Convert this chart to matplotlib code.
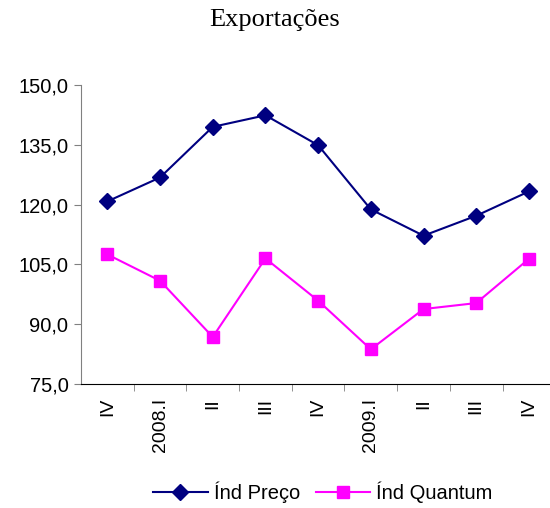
import matplotlib
matplotlib.use("Agg")
import matplotlib.pyplot as plt
import numpy as np

categories = ["IV", "2008.I", "II", "III", "IV", "2009.I", "II", "III", "IV"]
ind_preco = [120.8, 126.8, 139.5, 142.4, 134.9, 118.8, 112.2, 117.2, 123.3]
ind_quantum = [107.5, 100.9, 86.8, 106.5, 95.9, 83.7, 93.8, 95.3, 106.4]
yticks = [75, 90, 105, 120, 135, 150]

fig = plt.figure(figsize=(5.5, 5.08), dpi=100)
ax = fig.add_axes([81/550, 124/508, 1 - 81/550, (384-85)/508])

x = np.arange(len(categories))
ax.plot(x, ind_preco, color="#000080", marker="D", markersize=8, linewidth=1.5,
        label="Índ Preço", clip_on=False)
ax.plot(x, ind_quantum, color="#FF00FF", marker="s", markersize=8, linewidth=1.5,
        label="Índ Quantum", clip_on=False)

ax.set_ylim(75, 150)
ax.set_xlim(-0.5, 8.4)
ax.set_yticks(yticks)
ax.set_yticklabels([f"{v:.1f}".replace(".", ",") for v in yticks],
                   fontsize=14.5, family="Liberation Sans")

# category labels at centers, tick marks at boundaries
ax.set_xticks(x)
ax.set_xticklabels(categories, rotation=90, fontsize=14, family="Liberation Sans",
                   va="top", ha="center")
ax.tick_params(axis="x", which="major", length=0, pad=10)
ax.set_xticks(np.arange(0.5, 8.5, 1), minor=True)
ax.tick_params(axis="x", which="minor", length=5, color="#808080", direction="out")
ax.tick_params(axis="y", length=5, color="#808080", direction="out", pad=4)

for s in ["top", "right"]:
    ax.spines[s].set_visible(False)
ax.spines["left"].set_color("#808080")
ax.spines["bottom"].set_color("black")

fig.text(0.5, 1 - 20/508, "Exportações", ha="center", va="center",
         fontsize=19, family="Liberation Serif")

fig.legend(loc="center", bbox_to_anchor=(323/550, 16/508), ncol=2, frameon=False,
           prop={"family": "Liberation Sans", "size": 14.5},
           handlelength=2.7, columnspacing=0.8, handletextpad=0.3)

fig.savefig("out.png", dpi=100)
